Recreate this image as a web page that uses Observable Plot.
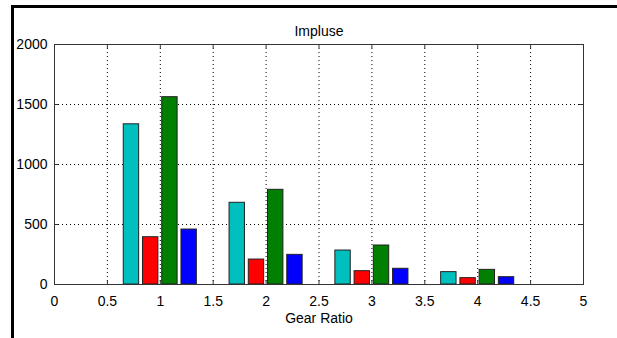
<!DOCTYPE html>
<html>
<head>
<meta charset="utf-8">
<script src="https://cdn.jsdelivr.net/npm/d3@7"></script>
<script src="https://cdn.jsdelivr.net/npm/@observablehq/plot@0.6"></script>
<style>
  html, body { margin: 0; padding: 0; background: #fff; }
  #wrap { position: relative; width: 617px; height: 338px; overflow: hidden; }
  #wrap svg { position: absolute; left: 0; top: 0; }
  #border { position: absolute; left: 11px; top: 5px; right: -10px; bottom: -10px;
            border-left: 3px solid #000; border-top: 3px solid #000; pointer-events: none; }
</style>
</head>
<body>
<div id="wrap"><div id="border"></div></div>
<script>
// ---- data ----
const gears = [1, 2, 3, 4];
const seriesNames = ["Series 1", "Series 2", "Series 3", "Series 4"];
const cyanValues  = [1335, 681, 283, 103];
const redValues   = [394, 208, 111, 53];
const greenValues = [1561, 789, 325, 122];
const blueValues  = [458, 247, 131, 61];
const seriesColors = ["#00bfbf", "#ff0000", "#007f00", "#0000ff"];
const xTicks = [0, 0.5, 1, 1.5, 2, 2.5, 3, 3.5, 4, 4.5, 5];
const yTicks = [0, 500, 1000, 1500, 2000];
const titleText = "Impluse";
const xLabel = "Gear Ratio";

// ---- MATLAB-style grouped bar layout ----
const allSeries = [cyanValues, redValues, greenValues, blueValues];
const n = allSeries.length;
const groupWidth = Math.min(0.8, n / (n + 1.5));
const barWidth = groupWidth / n * 0.8;
const rows = [];
allSeries.forEach((vals, i) => {
  const off = -groupWidth / 2 + (2 * i + 1) * groupWidth / (2 * n);
  vals.forEach((v, j) => {
    const c = gears[j] + off;
    rows.push({series: seriesNames[i], gear: gears[j], value: v, x1: c - barWidth / 2, x2: c + barWidth / 2});
  });
});

const W = 617, H = 338, mL = 54, mR = 34, mT = 44, mB = 54;
const innerH = H - mT - mB, innerW = W - mL - mR;
const gridX = xTicks.filter(d => d > 0 && d < 5);
const gridY = yTicks.filter(d => d > 0 && d < 2000);
const font = "Arial, 'Liberation Sans', sans-serif";

const chart = Plot.plot({
  width: W, height: H,
  marginLeft: mL, marginRight: mR, marginTop: mT, marginBottom: mB,
  style: {fontFamily: font, fontSize: "14px", color: "#000", background: "transparent"},
  x: {domain: [0, 5]},
  y: {domain: [0, 2000]},
  color: {domain: seriesNames, range: seriesColors},
  marks: [
    Plot.ruleX(gridX, {stroke: "#000", strokeWidth: 1, strokeDasharray: "1,3"}),
    Plot.ruleY(gridY, {stroke: "#000", strokeWidth: 1, strokeDasharray: "1,3"}),
    Plot.rectY(rows, {x1: "x1", x2: "x2", y1: 0, y2: "value", fill: "series", stroke: "#222", strokeWidth: 1}),
    // inward tick marks
    Plot.gridX(xTicks, {stroke: "#333", strokeOpacity: 1, insetTop: innerH - 4}),
    Plot.gridX(xTicks, {stroke: "#333", strokeOpacity: 1, insetBottom: innerH - 4}),
    Plot.gridY(yTicks, {stroke: "#333", strokeOpacity: 1, insetRight: innerW - 4}),
    Plot.gridY(yTicks, {stroke: "#333", strokeOpacity: 1, insetLeft: innerW - 4}),
    Plot.frame({stroke: "#333", strokeWidth: 1}),
    Plot.axisX(xTicks, {tickSize: 0, tickPadding: 12, label: null, tickFormat: d => String(d), fontSize: 14}),
    Plot.axisY(yTicks, {tickSize: 0, tickPadding: 7, label: null, tickFormat: d => String(d), fontSize: 14}),
    Plot.text([xLabel], {frameAnchor: "bottom", dy: 38, fontSize: 14, fill: "#000"}),
    Plot.text([titleText], {frameAnchor: "top", dy: -18, fontSize: 14, fill: "#000"})
  ]
});
document.getElementById("wrap").insertBefore(chart, document.getElementById("border"));
</script>
</body>
</html>
